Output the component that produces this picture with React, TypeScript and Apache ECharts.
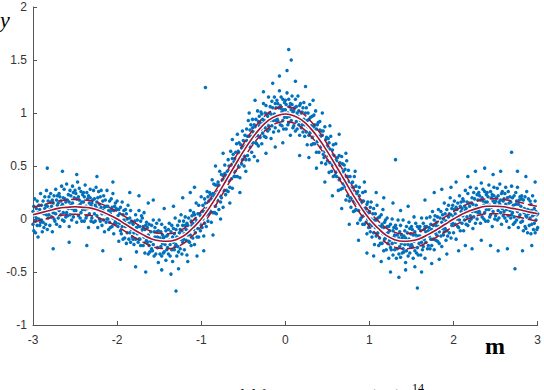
import React, { useEffect, useRef } from "react";
import * as echarts from "echarts";

// Fitted SVR curve (x, y)
const FIT_X = [
  -3.0, -2.9, -2.8, -2.7, -2.6, -2.5, -2.4, -2.3, -2.2, -2.1,
  -2.0, -1.9, -1.8, -1.7, -1.6, -1.5, -1.4, -1.3, -1.2, -1.1,
  -1.0, -0.9, -0.8, -0.7, -0.6, -0.5, -0.4, -0.3, -0.2, -0.1,
  0.0, 0.1, 0.2, 0.3, 0.4, 0.5, 0.6, 0.7, 0.8, 0.9,
  1.0, 1.1, 1.2, 1.3, 1.4, 1.5, 1.6, 1.7, 1.8, 1.9,
  2.0, 2.1, 2.2, 2.3, 2.4, 2.5, 2.6, 2.7, 2.8, 2.9, 3.0,
];
const FIT_Y = [
  0.04, 0.06, 0.08, 0.1, 0.11, 0.115, 0.11, 0.1, 0.075, 0.04,
  0.0, -0.05, -0.1, -0.145, -0.185, -0.205, -0.21, -0.195, -0.155, -0.085,
  0.0, 0.11, 0.235, 0.37, 0.505, 0.635, 0.755, 0.855, 0.93, 0.975,
  0.99, 0.975, 0.93, 0.855, 0.755, 0.635, 0.505, 0.37, 0.235, 0.11,
  0.0, -0.085, -0.155, -0.195, -0.21, -0.205, -0.185, -0.145, -0.1, -0.05,
  0.0, 0.045, 0.08, 0.105, 0.12, 0.12, 0.115, 0.1, 0.085, 0.065, 0.05,
];
// half-width of the epsilon tube (dashed lines)
const EPSILON = 0.07;

const X_TICK_STEP = 1;
const Y_TICK_STEP = 0.5;

// Noisy samples: flat list of pairs (x*100, y*100)
const SAMPLES_X100_Y100 = [
-300,7,-300,-5,-299,12,-299,-11,-298,3,-298,19,-297,-2,-297,-13,-296,10,-296,1,-295,-6,-295,17,-294,6,-294,-17,-293,13,-293,0,-292,9,-292,-6,-291,24,-291,-3,
-290,-1,-290,13,-289,-12,-289,6,-288,17,-288,-3,-287,5,-287,-8,-286,21,-286,10,-285,-5,-285,13,-284,4,-284,27,-283,-10,-283,12,-282,1,-282,17,-281,4,-281,21,-283,48,
-280,9,-280,-6,-279,16,-279,24,-278,2,-278,12,-277,-12,-277,18,-276,6,-276,15,-275,0,-275,22,-274,9,-274,-2,-273,28,-273,5,-272,18,-272,-5,-271,13,-271,22,-276,-28,
-270,1,-270,15,-269,24,-269,8,-268,-7,-268,21,-267,17,-267,4,-266,12,-266,31,-265,-1,-265,14,-264,20,-264,6,-263,-2,-263,28,-262,11,-262,19,-261,2,-261,16,-265,45,
-260,6,-260,33,-259,3,-259,18,-258,10,-258,23,-257,-7,-257,16,-256,27,-256,4,-255,13,-255,22,-254,-1,-254,10,-253,31,-253,15,-252,2,-252,25,-251,8,-251,20,-257,-22,
-250,27,-250,10,-249,24,-249,8,-248,19,-248,-3,-247,35,-247,12,-246,21,-246,3,-245,18,-245,29,-244,1,-244,14,-243,6,-243,26,-242,16,-242,-2,-241,23,-241,9,-248,42,
-240,25,-240,16,-239,-2,-239,21,-238,9,-238,32,-237,1,-237,12,-236,25,-236,3,-235,19,-235,10,-234,22,-234,-8,-233,15,-233,5,-232,28,-232,20,-231,-2,-231,13,-236,-25,
-230,15,-230,1,-229,18,-229,10,-228,27,-228,-3,-227,5,-227,19,-226,13,-226,-2,-225,30,-225,11,-224,3,-224,16,-223,20,-223,-8,-222,9,-222,26,-221,14,-221,0,-224,40,
-220,21,-220,-2,-219,11,-219,27,-218,5,-218,-6,-217,17,-217,8,-216,-1,-216,22,-215,11,-215,-12,-214,18,-214,5,-213,12,-213,-3,-212,27,-212,0,-211,12,-211,0,-217,-30,
-210,-10,-210,8,-209,17,-209,-3,-208,5,-208,-8,-207,19,-207,8,-206,-7,-206,11,-205,1,-205,24,-204,-14,-204,8,-203,-4,-203,12,-202,-2,-202,15,-201,-4,-201,10,-205,35,
-200,9,-200,17,-199,-7,-199,3,-198,-21,-198,9,-197,-4,-197,5,-196,-11,-196,11,-195,-3,-195,-14,-194,16,-194,-7,-193,4,-193,-19,-192,-1,-192,8,-191,-3,-191,-18,-196,-38,
-190,9,-190,-7,-189,-23,-189,5,-188,0,-188,-13,-187,-6,-187,13,-186,-19,-186,-4,-185,1,-185,-13,-184,-22,-184,8,-183,-10,-183,-2,-182,-17,-182,-3,-181,-19,-181,-5,-185,25,
-180,-13,-180,-24,-179,-2,-179,-11,-178,-19,-178,4,-177,-8,-177,-31,-176,-1,-176,-14,-175,-7,-175,-22,-174,8,-174,-19,-173,-7,-173,-19,-172,-2,-172,-25,-171,-13,-171,3,-178,-45,-174,22,
-170,1,-170,-10,-169,-25,-169,-7,-168,-17,-168,6,-167,-32,-167,-10,-166,-22,-166,-6,-165,-20,-165,-3,-164,-22,-164,-8,-163,-33,-163,-15,-162,-5,-162,-25,-161,-18,-161,-31,-166,-50,-163,15,
-160,-21,-160,-12,-159,-28,-159,-6,-158,-19,-158,-30,-157,-1,-157,-24,-156,-12,-156,-35,-155,-17,-155,-8,-154,-18,-154,-33,-153,-12,-153,-4,-152,-27,-152,-17,-151,-41,-151,-11,-157,18,
-150,-20,-150,-1,-149,-33,-149,-18,-148,-12,-148,-26,-147,-35,-147,-5,-146,-23,-146,-15,-145,-32,-145,-18,-144,-31,-144,-17,-143,-8,-143,-24,-142,-39,-142,-11,-141,-16,-141,-29,-147,-48,-144,10,
-140,-15,-140,-27,-139,-10,-139,-33,-138,-20,-138,-4,-137,-24,-137,-35,-136,-12,-136,-21,-135,-29,-135,-6,-134,-17,-134,-40,-133,-9,-133,-22,-132,-14,-132,-29,-131,1,-131,-26,-130,-68,-136,-52,-133,12,
-130,-24,-130,-10,-129,-35,-129,-17,-128,-6,-128,-26,-127,-18,-127,-31,-126,-2,-126,-13,-125,-28,-125,-10,-124,-19,-124,4,-123,-33,-123,-11,-122,-22,-122,-6,-121,-19,-121,-2,-127,-47,-122,20,
-120,-14,-120,-29,-119,-6,-119,2,-118,-20,-118,-10,-117,-34,-117,-4,-116,-15,-116,-6,-115,-21,-115,1,-114,-11,-114,-22,-113,8,-113,-15,-112,-2,-112,-25,-111,-6,-111,3,-116,-40,-113,25,
-110,-18,-110,-4,-109,6,-109,-10,-108,-24,-108,4,-107,0,-107,-13,-106,-4,-106,15,-105,-17,-105,-2,-104,5,-104,-9,-103,-17,-103,13,-102,-3,-102,5,-101,-11,-101,3,-105,-35,-108,30,
-100,-6,-100,21,-99,-8,-99,7,-98,0,-98,13,-97,-16,-97,7,-96,19,-96,-4,-95,6,-95,15,-94,-7,-94,4,-93,26,-93,10,-92,-2,-92,21,-91,5,-91,17,-95,124,-97,-30,
-90,25,-90,8,-89,23,-89,7,-88,19,-88,-3,-87,37,-87,14,-86,24,-86,6,-85,22,-85,33,-84,6,-84,19,-83,12,-83,32,-82,23,-82,5,-81,32,-81,18,-86,-15,-83,50,
-80,35,-80,26,-79,9,-79,32,-78,22,-78,45,-77,16,-77,27,-76,42,-76,20,-75,37,-75,28,-74,41,-74,11,-73,37,-73,27,-72,51,-72,43,-71,23,-71,38,-77,0,-74,62,
-70,41,-70,27,-69,45,-69,37,-68,56,-68,26,-67,36,-67,50,-66,45,-66,30,-65,64,-65,45,-64,38,-64,51,-63,57,-63,29,-62,45,-62,61,-61,54,-61,40,-66,15,-63,75,
-60,57,-60,45,-59,63,-59,40,-58,55,-58,71,-57,51,-57,40,-56,64,-56,55,-55,49,-55,72,-54,62,-54,39,-53,70,-53,57,-52,67,-52,52,-51,83,-51,56,-57,80,-54,25,
-50,60,-50,74,-49,50,-49,68,-48,79,-48,59,-47,69,-47,56,-46,85,-46,74,-45,60,-45,78,-44,70,-44,93,-43,56,-43,78,-42,68,-42,84,-41,72,-41,89,-47,45,-43,100,
-40,78,-40,63,-39,86,-39,94,-38,72,-38,82,-37,59,-37,89,-36,78,-36,87,-35,72,-35,94,-34,82,-34,71,-33,102,-33,79,-32,92,-32,69,-31,88,-31,97,-36,112,-33,55,
-30,77,-30,91,-29,101,-29,85,-28,71,-28,99,-27,94,-27,81,-26,90,-26,109,-25,78,-25,93,-24,100,-24,86,-23,77,-23,107,-22,91,-22,99,-21,83,-21,97,-26,120,-23,62,
-20,88,-20,115,-19,85,-19,100,-18,93,-18,106,-17,76,-17,99,-16,111,-16,88,-15,96,-15,105,-14,82,-14,93,-13,115,-13,99,-12,86,-12,109,-11,93,-11,105,-15,128,-12,68,
-10,112,-10,95,-9,109,-9,93,-8,105,-8,83,-7,121,-7,98,-6,107,-6,89,-5,104,-5,115,-4,88,-4,101,-3,93,-3,113,-2,103,-2,85,-1,110,-1,96,-7,135,-3,72,
0,112,0,103,1,85,1,108,2,96,2,119,3,89,3,100,4,113,4,91,5,106,5,97,6,109,6,79,7,103,7,93,8,116,8,108,9,86,9,101,4,160,7,150,2,140,
10,102,10,88,11,105,11,97,12,113,12,83,13,92,13,106,14,100,14,85,15,116,15,97,16,89,16,102,17,107,17,79,18,93,18,109,19,100,19,86,12,130,17,60,
20,101,20,89,21,105,21,82,22,94,22,110,23,89,23,78,24,100,24,91,25,82,25,105,26,93,26,70,27,100,27,87,28,94,28,79,29,108,29,81,24,125,28,58,
30,82,30,96,31,70,31,88,32,97,32,77,33,84,33,71,34,98,34,87,35,71,35,89,36,79,36,102,37,63,37,85,38,73,38,89,39,74,39,91,33,112,37,48,
40,78,40,63,41,84,41,92,42,68,42,78,43,53,43,83,44,70,44,79,45,61,45,83,46,69,46,58,47,87,47,64,48,75,48,52,49,68,49,77,44,100,47,35,
50,55,50,69,51,76,51,60,52,44,52,72,53,66,53,53,54,59,54,78,55,45,55,60,56,65,56,51,57,40,57,70,58,52,58,60,59,41,59,55,53,88,56,22,
60,44,60,71,61,40,61,55,62,45,62,58,63,27,63,50,64,60,64,37,65,44,65,53,66,28,66,39,67,59,67,43,68,29,68,52,69,33,69,45,64,80,67,10,
70,51,70,34,71,47,71,31,72,40,72,18,73,55,73,32,74,40,74,22,75,35,75,46,76,17,76,30,77,20,77,40,78,29,78,11,79,34,79,20,72,62,76,-5,
80,35,80,26,81,7,81,30,82,17,82,40,83,8,83,19,84,31,84,9,85,24,85,15,86,26,86,-4,87,18,87,8,88,30,88,22,89,-1,89,14,83,45,87,-20,
90,15,90,1,91,17,91,9,92,25,92,-5,93,3,93,17,94,10,94,-5,95,26,95,7,96,-3,96,10,97,14,97,-14,98,0,98,16,99,6,99,-8,94,35,97,-32,
100,7,100,-5,101,11,101,-12,102,0,102,16,103,-6,103,-17,104,5,104,-4,105,-13,105,10,106,-1,106,-24,107,5,107,-8,108,-1,108,-16,109,13,109,-14,105,-35,108,25,
110,-13,110,1,111,-25,111,-7,112,2,112,-18,113,-10,113,-23,114,4,114,-7,115,-23,115,-5,116,-14,116,9,117,-30,117,-8,118,-19,118,-3,119,-18,119,-1,114,-40,117,20,
120,-14,120,-29,121,-7,121,1,122,-23,122,-13,123,-37,123,-7,124,-20,124,-11,125,-27,125,-5,126,-18,126,-29,127,0,127,-23,128,-11,128,-34,129,-17,129,-8,125,-50,128,15,
130,-29,130,-15,131,-6,131,-22,132,-37,132,-9,133,-15,133,-28,134,-20,134,-1,135,-33,135,-18,136,-12,136,-26,137,-36,137,-6,138,-23,138,-15,139,-32,139,-18,131,56,135,-55,137,8,
140,-28,140,-1,141,-31,141,-16,142,-24,142,-11,143,-41,143,-18,144,-7,144,-30,145,-22,145,-13,146,-35,146,-24,147,-3,147,-19,148,-32,148,-9,149,-26,149,-14,143,-48,146,12,
150,-7,150,-24,151,-10,151,-26,152,-15,152,-37,153,2,153,-21,154,-12,154,-30,155,-15,155,-4,156,-32,156,-19,157,-27,157,-7,158,-16,158,-34,159,-9,159,-23,157,-65,154,-45,
160,-7,160,-16,161,-34,161,-11,162,-22,162,1,163,-29,163,-18,164,-4,164,-26,165,-10,165,-19,166,-7,166,-37,167,-12,167,-22,168,1,168,-7,169,-28,169,-13,162,-50,166,18,
170,-11,170,-25,171,-8,171,-16,172,2,172,-28,173,-19,173,-5,174,-10,174,-25,175,7,175,-12,176,-19,176,-6,177,-1,177,-29,178,-13,178,3,179,-6,179,-20,174,-42,177,25,
180,-3,180,-15,181,2,181,-21,182,-7,182,9,183,-12,183,-23,184,1,184,-8,185,-16,185,7,186,-3,186,-26,187,4,187,-9,188,0,188,-15,189,15,189,-12,183,-38,186,28,
190,-9,190,5,191,-20,191,-2,192,9,192,-11,193,-3,193,-16,194,13,194,2,195,-13,195,5,196,-3,196,20,197,-18,197,4,198,-6,198,10,199,-4,199,13,192,-33,197,30,
200,2,200,-13,201,9,201,17,202,-5,202,5,203,-19,203,11,204,0,204,9,205,-7,205,15,206,3,206,-8,207,22,207,-1,208,12,208,-11,209,7,209,16,203,35,206,-30,
210,-4,210,10,211,19,211,3,212,-11,212,17,213,12,213,-1,214,8,214,27,215,-5,215,10,216,16,216,2,217,-6,217,24,218,7,218,15,219,-2,219,12,214,-25,217,40,
220,3,220,30,221,0,221,15,222,7,222,20,223,-9,223,14,224,25,224,2,225,10,225,19,226,-4,226,7,227,29,227,13,228,0,228,23,229,6,229,18,222,-28,226,45,
230,25,230,8,231,22,231,6,232,18,232,-4,233,34,233,11,234,20,234,2,235,17,235,28,236,0,236,13,237,6,237,26,238,16,238,-2,239,23,239,9,233,-20,237,48,
240,25,240,16,241,-2,241,21,242,9,242,32,243,2,243,13,244,26,244,4,245,20,245,11,246,23,246,-7,247,17,247,7,248,30,248,22,249,0,249,15,244,-25,247,42,
250,17,250,3,251,20,251,12,252,29,252,-1,253,8,253,22,254,16,254,1,255,33,255,14,256,6,256,18,257,24,257,-5,258,10,258,26,259,17,259,3,253,-30,256,45,
260,19,260,7,261,24,261,1,262,14,262,30,263,9,263,-2,264,20,264,11,265,3,265,26,266,15,266,-8,267,21,267,8,268,16,268,1,269,31,269,4,269,63,264,-28,
270,6,270,20,271,-5,271,13,272,22,272,2,273,10,273,-3,274,25,274,14,275,-1,275,17,276,7,276,30,277,-8,277,14,278,2,278,18,279,4,279,21,273,-47,276,45,
280,12,280,-3,281,19,281,22,282,-2,282,8,283,-11,283,18,284,6,284,10,285,-7,285,21,286,3,286,-9,287,26,287,2,288,9,288,-13,289,5,289,19,282,-30,286,40,
290,-6,290,8,291,17,291,1,292,-14,292,14,293,8,293,-5,294,3,294,22,295,-10,295,4,296,10,296,-4,297,-13,297,17,298,-1,298,7,299,-10,299,4,300,5,300,-8,293,-25,297,35,
];

const BLUE = "#0072BD";
const RED = "#A2142F";
const AXIS_COLOR = "#555";
const LABEL_COLOR = "#333";

export default function App() {
  const ref = useRef<HTMLDivElement>(null);

  useEffect(() => {
    document.body.style.margin = "0";
    if (!ref.current) return;
    const chart = echarts.init(ref.current, null, { renderer: "svg" });

    const points: number[][] = [];
    for (let i = 0; i + 1 < SAMPLES_X100_Y100.length; i += 2) {
      points.push([SAMPLES_X100_Y100[i] / 100, SAMPLES_X100_Y100[i + 1] / 100]);
    }
    const fit = FIT_X.map((x, i) => [x, FIT_Y[i]]);
    const upper = FIT_X.map((x, i) => [x, FIT_Y[i] + EPSILON]);
    const lower = FIT_X.map((x, i) => [x, FIT_Y[i] - EPSILON]);

    const axisCommon = {
      type: "value" as const,
      axisLine: { show: true, onZero: false, lineStyle: { color: AXIS_COLOR, width: 1 } },
      axisTick: { show: true, inside: true, length: 4, lineStyle: { color: AXIS_COLOR } },
      splitLine: { show: false },
      axisLabel: {
        color: LABEL_COLOR,
        fontSize: 12,
        fontFamily: "Liberation Sans, Arial, sans-serif",
      },
    };

    chart.setOption({
      animation: false,
      backgroundColor: "#ffffff",
      grid: { left: 33, right: 4, top: 7, bottom: 65, containLabel: false },
      xAxis: {
        ...axisCommon,
        min: -3,
        max: 3,
        interval: X_TICK_STEP,
        axisLabel: { ...axisCommon.axisLabel, margin: 9 },
      },
      yAxis: {
        ...axisCommon,
        min: -1,
        max: 2,
        interval: Y_TICK_STEP,
        axisLabel: { ...axisCommon.axisLabel, margin: 6 },
      },
      series: [
        {
          type: "scatter",
          data: points,
          symbol: "circle",
          symbolSize: 3.5,
          itemStyle: { color: BLUE, opacity: 1 },
          silent: true,
          clip: true,
        },
        {
          type: "line",
          data: fit,
          smooth: true,
          showSymbol: false,
          symbol: "none",
          lineStyle: { color: "#ffffff", width: 4 },
          silent: true,
          z: 3,
        },
        {
          type: "line",
          data: upper,
          smooth: true,
          showSymbol: false,
          symbol: "none",
          lineStyle: { color: RED, width: 1.5, type: [9, 4] },
          silent: true,
          z: 4,
        },
        {
          type: "line",
          data: lower,
          smooth: true,
          showSymbol: false,
          symbol: "none",
          lineStyle: { color: RED, width: 1.5, type: [9, 4] },
          silent: true,
          z: 4,
        },
        {
          type: "line",
          data: fit,
          smooth: true,
          showSymbol: false,
          symbol: "none",
          lineStyle: { color: RED, width: 1.6 },
          silent: true,
          z: 5,
        },
      ],
      graphic: [
        {
          type: "text",
          x: 0,
          y: 8,
          style: {
            text: "y",
            font: 'italic 22px "Liberation Serif", serif',
            fill: "#000",
            textVerticalAlign: "top",
          },
        },
        {
          type: "text",
          x: 495,
          y: 334,
          style: {
            text: "m",
            font: 'bold 24px "Liberation Serif", serif',
            fill: "#000",
            textAlign: "center",
            textVerticalAlign: "top",
          },
        },
        {
          type: "text",
          x: 95,
          y: 387,
          style: {
            text: "Fig. 2.",
            font: '16px "Liberation Serif", serif',
            fill: "#000",
            textVerticalAlign: "top",
          },
        },
        {
          type: "text",
          x: 181,
          y: 387,
          style: {
            text: "SVR model for",
            font: '16px "Liberation Serif", serif',
            fill: "#000",
            textVerticalAlign: "top",
          },
        },
        {
          type: "text",
          x: 370,
          y: 387,
          style: {
            text: "(2/π)",
            font: '16px "Liberation Serif", serif',
            fill: "#000",
            textVerticalAlign: "top",
          },
        },
        {
          type: "text",
          x: 412,
          y: 382,
          style: {
            text: "14",
            font: '12px "Liberation Serif", serif',
            fill: "#000",
            textVerticalAlign: "top",
          },
        },
      ],
    });

    return () => chart.dispose();
  }, []);

  return <div ref={ref} style={{ width: 544, height: 390 }} />;
}
